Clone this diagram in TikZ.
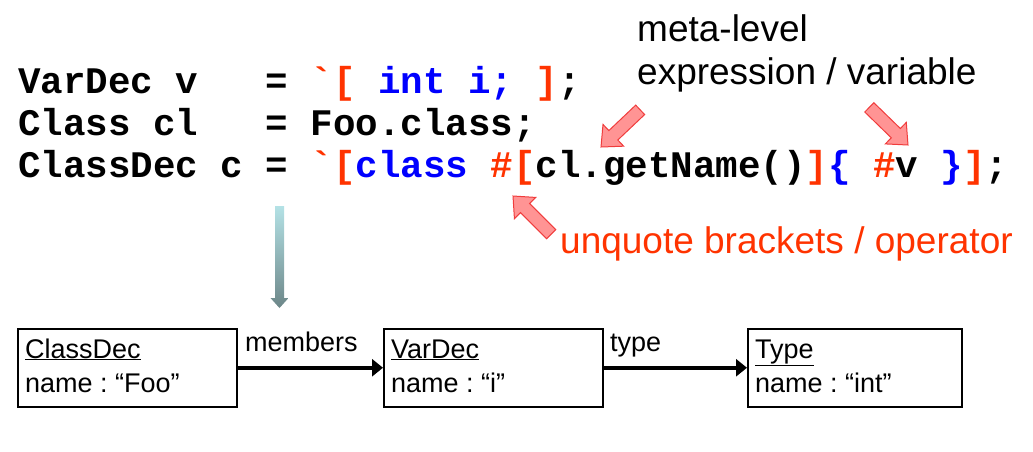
\documentclass[tikz,border=0pt]{standalone}
\usepackage{fontspec}
\setmainfont{Liberation Sans}
\setmonofont{Liberation Mono}
\usetikzlibrary{arrows.meta}
\definecolor{cred}{HTML}{FF3300}
\definecolor{cblue}{HTML}{0000FF}
\definecolor{afill}{HTML}{FF9494}
\definecolor{aline}{HTML}{F03C3C}
\definecolor{gtop}{HTML}{B4E2E6}
\definecolor{gbot}{HTML}{6C8688}
\tikzset{
  x=1pt, y=1pt,
  codeline/.style={anchor=base west, inner sep=0pt, font=\fontsize{37.5}{42}\selectfont\ttfamily\bfseries},
  note/.style={anchor=base west, inner sep=0pt, font=\fontsize{37}{44}\selectfont},
  objbox/.style={draw=black, line width=1.5pt, minimum width=219pt, minimum height=78pt, inner sep=0pt},
  objtext/.style={anchor=base west, inner sep=0pt, font=\fontsize{27}{32}\selectfont},
  conn/.style={line width=4pt, -{Triangle[length=11pt,width=17pt]}, shorten >=0pt},
  arrowbody/.style={fill=afill, draw=aline, line width=1pt, line join=miter},
  blockarrow/.pic={
    \path[arrowbody] (0,0) -- (-17,15) -- (-17,6.5) -- (-54,6.5) -- (-54,-6.5) -- (-17,-6.5) -- (-17,-15) -- cycle;
  }
}
\begin{document}
\begin{tikzpicture}
\useasboundingbox (0,0) rectangle (1033,-451);
\frenchspacing
% code lines
\node[codeline] (l1) at (18,-93) {VarDec\ v\ \ \ =\ \textcolor{cred}{`[}\ \textcolor{cblue}{int\ i;}\ \textcolor{cred}{]};};
\node[codeline] (l2) at (18,-135) {Class\ cl\ \ \ =\ Foo.class;};
\node[codeline] (l3) at (18,-177) {ClassDec\ c\ =\ \textcolor{cred}{`[}\textcolor{cblue}{class}\ \textcolor{cred}{\#[}cl.getName()\textcolor{cred}{]}\textcolor{cblue}{\{}\ \textcolor{cred}{\#}v\ \textcolor{cblue}{\}}\textcolor{cred}{]};};
% annotations
\node[note] (m1) at (637,-41) {meta-level};
\node[note] (m2) at (637,-84) {expression / variable};
\node[note, text=cred] (uq) at (560,-253) {unquote brackets / operator};
% red block arrows
\pic[rotate=223.5] at (601,-147) {blockarrow};
\pic[rotate=-44.2] at (908,-145) {blockarrow};
\pic[rotate=135] at (513,-196) {blockarrow};
% gradient arrow
\shade[top color=gtop, bottom color=gbot] (275,-206) -- (284,-206) -- (284,-298) -- (288.5,-298) -- (279.5,-308) -- (270.5,-298) -- (275,-298) -- cycle;
% object boxes
\node[objbox, anchor=north west] (cd) at (17,-328) {};
\node[objbox, anchor=north west] (vd) at (383,-328) {};
\node[objbox, anchor=north west, minimum width=214pt] (ty) at (747,-328) {};
\node[objtext] (cdn) at (25,-358) {\underline{ClassDec}};
\node[objtext] (cdv) at (25,-392) {name : “Foo”};
\node[objtext] (vdn) at (391,-358) {\underline{VarDec}};
\node[objtext] (vdv) at (391,-392) {name : “i”};
\node[objtext] (tyn) at (755,-358) {\underline{Type}};
\node[objtext] (tyv) at (755,-392) {name : “int”};
% connectors
\draw[conn] (cd.east) -- (vd.west);
\draw[conn] (vd.east) -- (ty.west);
\node[objtext] (lm) at (245,-351) {members};
\node[objtext] (lt) at (610,-351) {type};
\end{tikzpicture}
\end{document}
